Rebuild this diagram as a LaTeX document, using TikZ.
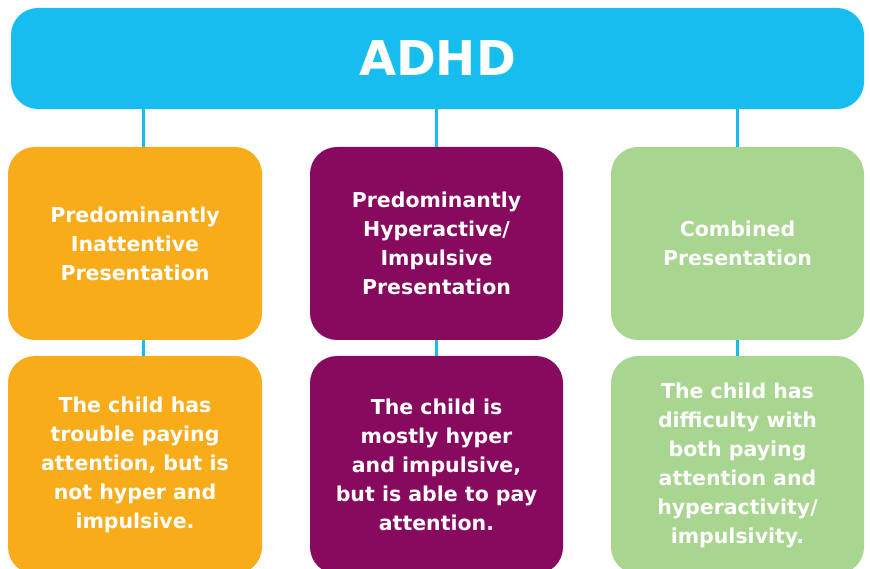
\documentclass[tikz,border=0pt]{standalone}
\usepackage{fontspec}
\setmainfont{DejaVu Sans}
\usetikzlibrary{positioning}
\definecolor{adhdblue}{HTML}{17BDEF}
\definecolor{adhdorange}{HTML}{F9AC1A}
\definecolor{adhdpurple}{HTML}{870A5E}
\definecolor{adhdgreen}{HTML}{A8D590}
\tikzset{
  box/.style={rounded corners=27pt, inner sep=0pt, align=center, text=white,
    font=\bfseries\fontsize{20.5}{29}\selectfont},
  link/.style={adhdblue, line width=3pt}
}

\begin{document}
\begin{tikzpicture}[x=1pt, y=1pt]
\useasboundingbox (0,0) rectangle (870,568);
\node[box, fill=adhdblue, minimum width=853pt, minimum height=101pt,
  font=\bfseries\fontsize{48}{50}\selectfont] (adhd) at (437.5,509.5) {ADHD};
% presentations
\node[box, fill=adhdorange, minimum width=254pt, minimum height=193pt]
  (inatt) at (135,324.5) {Predominantly\\Inattentive\\Presentation};
\node[box, fill=adhdpurple, minimum width=253pt, minimum height=193pt]
  (hyper) at (436.5,324.5) {Predominantly\\Hyperactive/\\Impulsive\\Presentation};
\node[box, fill=adhdgreen, minimum width=253pt, minimum height=193pt]
  (comb) at (737.5,324.5) {Combined\\Presentation};
% descriptions
\node[box, fill=adhdorange, minimum width=254pt, minimum height=218pt]
  (inattdesc) at (135,103) {The child has\\trouble paying\\attention, but is\\not hyper and\\impulsive.};
\node[box, fill=adhdpurple, minimum width=253pt, minimum height=218pt]
  (hyperdesc) at (436.5,103) {The child is\\mostly hyper\\and impulsive,\\but is able to pay\\attention.};
\node[box, fill=adhdgreen, minimum width=253pt, minimum height=218pt]
  (combdesc) at (737.5,103) {The child has\\difficulty with\\both paying\\attention and\\hyperactivity/\\impulsivity.};
% links
\draw[link] ([xshift=8pt]inatt.north) -- ([xshift=8pt]inatt.north |- adhd.south);
\draw[link] (hyper.north) -- (hyper.north |- adhd.south);
\draw[link] (comb.north) -- (comb.north |- adhd.south);
\draw[link] ([xshift=8pt]inatt.south) -- ([xshift=8pt]inattdesc.north);
\draw[link] (hyper.south) -- (hyperdesc.north);
\draw[link] (comb.south) -- (combdesc.north);
\end{tikzpicture}
\end{document}
